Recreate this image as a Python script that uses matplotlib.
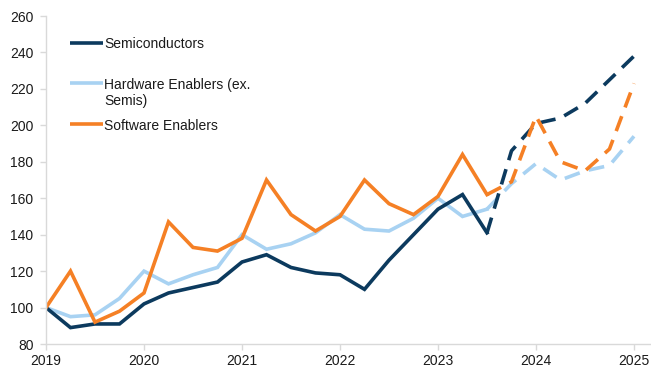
import matplotlib.pyplot as plt
from matplotlib.lines import Line2D
import numpy as np

plt.rcParams['font.family'] = ['Liberation Sans', 'DejaVu Sans']

# quarterly index (2019 Q1 = 100); solid = actual, dashed = forecast
quarters_actual = [2019 + 0.25 * i for i in range(19)]      # 2019.00 .. 2023.50
quarters_fcst = [2019 + 0.25 * i for i in range(18, 25)]    # 2023.50 .. 2025.00

semis_actual = [100, 89, 91, 91, 102, 108, 111, 114, 125, 129, 122, 119,
                118, 110, 126, 140, 154, 162, 141]
semis_fcst = [141, 186, 201, 204, 212, 225, 238]

hardware_actual = [100, 95, 96, 105, 120, 113, 118, 122, 140, 132, 135, 141,
                   151, 143, 142, 149, 160, 150, 154]
hardware_fcst = [154, 168, 179, 170, 175, 178, 194]

software_actual = [100, 120, 92, 98, 108, 147, 133, 131, 138, 170, 151, 142,
                   150, 170, 157, 151, 161, 184, 162]
software_fcst = [162, 169, 205, 180, 175, 187, 223]

labels = ['Semiconductors', 'Hardware Enablers (ex.\nSemis)', 'Software Enablers']
colors = ['#0c3a5e', '#a8d2f2', '#f58025']

year_ticks = [2019, 2020, 2021, 2022, 2023, 2024, 2025]
y_ticks = np.arange(80, 261, 20)

fig = plt.figure(figsize=(6.51, 3.69), dpi=100)
ax = fig.add_axes([46 / 651, 1 - 344 / 369, (651 - 46) / 651, (344 - 16) / 369])

lw = 2.6
series = [(semis_actual, semis_fcst), (hardware_actual, hardware_fcst),
          (software_actual, software_fcst)]
# light blue drawn first, then navy, orange on top
for idx in [1, 0, 2]:
    act, fc = series[idx]
    ax.plot(quarters_actual, act, color=colors[idx], lw=lw, solid_joinstyle='miter')
    ax.plot(quarters_fcst, fc, color=colors[idx], lw=lw, dashes=(4.4, 2.6),
            dash_capstyle='butt')

ax.set_xlim(2019, 2019 + (651 - 46) / 98)
ax.set_ylim(80, 260)
ax.set_xticks(year_ticks)
ax.set_xticklabels([str(y) for y in year_ticks])
ax.set_yticks(y_ticks)

for s in ['top', 'right']:
    ax.spines[s].set_visible(False)
for s in ['left', 'bottom']:
    ax.spines[s].set_color('#d9d9d9')
    ax.spines[s].set_linewidth(1.0)
ax.tick_params(axis='both', colors='#d9d9d9', length=4, width=1.0,
               labelcolor='#1a1a1a', labelsize=10)
ax.tick_params(axis='x', pad=3)
ax.tick_params(axis='y', pad=5)

# legend, Excel style: handle aligned to the first text line
leg_px = [43, 83, 124]
line_step = 17
x0 = (70 - 46) / 605
x1 = (103 - 46) / 605
for py, lab, c in zip(leg_px, labels, colors):
    y = 1 - (py - 16) / 328
    ax.add_line(Line2D([x0, x1], [y, y], transform=ax.transAxes, color=c, lw=lw,
                       solid_capstyle='butt'))
    for k, part in enumerate(lab.split('\n')):
        yk = 1 - (py + k * line_step - 16) / 328
        ax.text(x1 + 1 / 605, yk, part, transform=ax.transAxes, fontsize=10,
                va='center_baseline', ha='left', color='#1a1a1a')

fig.savefig('out.png', dpi=100)
